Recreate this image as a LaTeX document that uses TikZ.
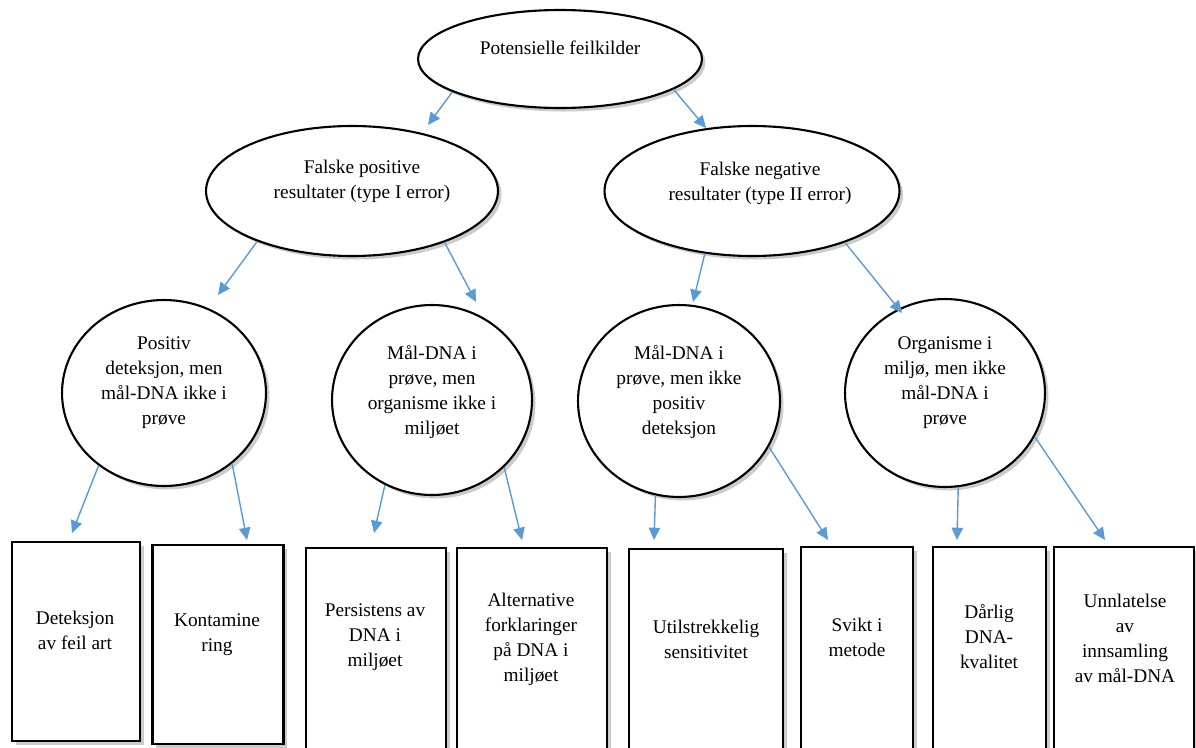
\documentclass[tikz,border=0pt]{standalone}
\usepackage{fontspec}
\setmainfont{Liberation Serif}
\usetikzlibrary{shapes.geometric,arrows.meta,shadows}
\definecolor{arrblue}{RGB}{91,155,213}
\begin{document}
\begin{tikzpicture}[x=0.02cm,y=-0.02cm,
  shp/.style={draw=black, line width=1.2pt, fill=white,
    drop shadow={shadow xshift=2pt,shadow yshift=-2pt,fill=black!45,opacity=0.45}},
  ell/.style={shp, ellipse, inner sep=0pt},
  bx/.style={shp, rectangle, inner sep=0pt},
  txt/.style={align=center, font=\fontsize{11}{14.2}\selectfont, inner sep=0pt},
  arr/.style={draw=arrblue, line width=0.8pt, -{Triangle[length=7pt,width=6.5pt]}}
]
\useasboundingbox (0,0) rectangle (1196,747);
\clip (0,0) rectangle (1196,747);
\fill[white] (0,0) rectangle (1196,747);

% ellipses
\node[ell, minimum width=5.68cm, minimum height=1.96cm] (T) at (560,59) {};
\node[ell, minimum width=5.84cm, minimum height=2.6cm] (FP) at (352,191) {};
\node[ell, minimum width=5.9cm, minimum height=2.6cm] (FN) at (752,191) {};
\node[ell, minimum width=4.08cm, minimum height=3.72cm] (A) at (164,393) {};
\node[ell, minimum width=4.0cm, minimum height=3.8cm] (B) at (432,400) {};
\node[ell, minimum width=4.04cm, minimum height=3.84cm] (C) at (679,401) {};
\node[ell, minimum width=4.0cm, minimum height=3.76cm] (D) at (945,393) {};

\node[txt] (tT) at (560,48) {Potensielle feilkilder};
\node[txt] (tFP) at (362,181) {Falske positive\\resultater (type I error)};
\node[txt] (tFN) at (760,183) {Falske negative\\resultater (type II error)};
\node[txt] (tA) at (164,383) {Positiv\\deteksjon, men\\mål-DNA ikke i\\prøve};
\node[txt] (tB) at (432,392) {Mål-DNA i\\prøve, men\\organisme ikke i\\miljøet};
\node[txt] (tC) at (679,392) {Mål-DNA i\\prøve, men ikke\\positiv\\deteksjon};
\node[txt] (tD) at (945,383) {Organisme i\\miljø, men ikke\\mål-DNA i\\prøve};

% boxes
\node[bx, minimum width=2.56cm, minimum height=3.98cm] (b1) at (76,641.5) {};
\node[bx, minimum width=2.62cm, minimum height=3.98cm] (b2) at (218,644.5) {};
\node[bx, minimum width=2.8cm, minimum height=4.3cm] (b3) at (376,655.5) {};
\node[bx, minimum width=3.0cm, minimum height=4.3cm] (b4) at (532,655.5) {};
\node[bx, minimum width=3.08cm, minimum height=4.3cm] (b5) at (706,656.5) {};
\node[bx, minimum width=2.24cm, minimum height=4.3cm] (b6) at (857,654.5) {};
\node[bx, minimum width=2.26cm, minimum height=4.3cm] (b7) at (989.5,654.5) {};
\node[bx, minimum width=2.8cm, minimum height=4.3cm] (b8) at (1124,654.5) {};

\node[txt] (t1) at (75,630.5) {Deteksjon\\av feil art};
\node[txt] (t2) at (217,634.5) {Kontamine\\ring};
\node[txt] (t3) at (375,637.5) {Persistens av\\DNA i\\miljøet};
\node[txt] (t4) at (531,639.5) {Alternative\\forklaringer\\på DNA i\\miljøet};
\node[txt] (t5) at (706,639.5) {Utilstrekkelig\\sensitivitet};
\node[txt] (t6) at (857,637.5) {Svikt i\\metode};
\node[txt] (t7) at (989,637) {Dårlig\\DNA-\\kvalitet};
\node[txt] (t8) at (1125,638.5) {Unnlatelse\\av\\innsamling\\av mål-DNA};

% arrow tips
\coordinate (e1) at (428,125);
\coordinate (e2) at (706,128);
\coordinate (e3) at (218,295);
\coordinate (e4) at (476,302);
\coordinate (e5) at (693,302);
\coordinate (e6) at (902,313);
\coordinate (e7) at (72,533);
\coordinate (e8) at (247,540);
\coordinate (e9) at (374,533);
\coordinate (e10) at (522,540);
\coordinate (e11) at (654,540);
\coordinate (e12) at (828,540);
\coordinate (e13) at (957,540);
\coordinate (e14) at (1105,540);

\draw[arr] (T.197) -- (e1);
\draw[arr] (T.345) -- (e2);
\draw[arr] (FP.208) -- (e3);
\draw[arr] (FP.331) -- (e4);
\draw[arr] (FN.233) -- (e5);
\draw[arr] (FN.331) -- (e6);
\draw[arr] (A.228) -- (e7);
\draw[arr] (A.314) -- (e8);
\draw[arr] (B.241) -- (e9);
\draw[arr] (B.317) -- (e10);
\draw[arr] (C.256) -- (e11);
\draw[arr] (C.333) -- (e12);
\draw[arr] (D.278) -- (e13);
\draw[arr] (D.334) -- (e14);
\end{tikzpicture}
\end{document}
